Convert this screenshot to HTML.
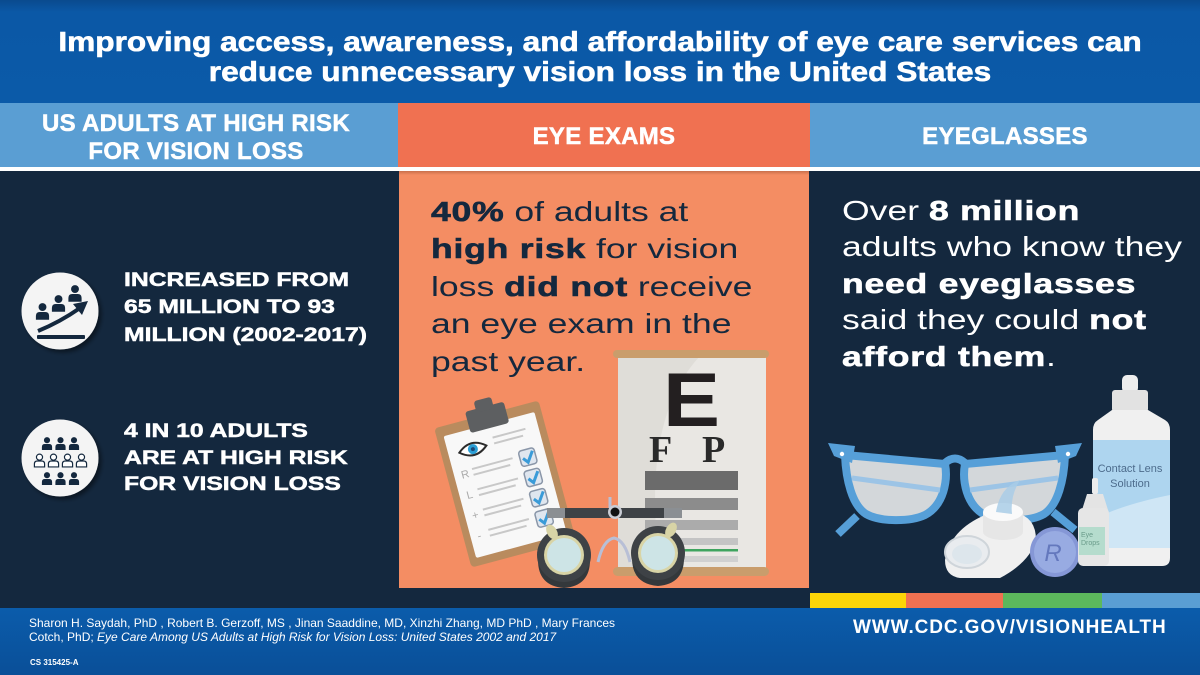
<!DOCTYPE html>
<html><head><meta charset="utf-8">
<style>
*{margin:0;padding:0;box-sizing:border-box}
body{width:1200px;height:675px;position:relative;overflow:hidden;background:#14283e;font-family:"Liberation Sans",Arial,sans-serif}
.abs{position:absolute}
.t{position:absolute;white-space:nowrap;transform-origin:0 0}
.hb{font-weight:700;-webkit-text-stroke:0.6px currentColor;letter-spacing:0.6px}
</style></head><body>
<div class="abs" style="left:0;top:0;width:1200px;height:103px;background:linear-gradient(#0a4a8e 0px,#0b58a6 12px,#0b5aa8 100%)"></div>
<div class="abs" style="left:0;top:103px;width:398px;height:64px;background:#5a9ed3"></div>
<div class="abs" style="left:398px;top:103px;width:412px;height:64px;background:#f07151"></div>
<div class="abs" style="left:810px;top:103px;width:390px;height:64px;background:#5a9ed3"></div>
<div class="abs" style="left:0;top:167px;width:1200px;height:4px;background:#fff"></div>
<div class="abs" style="left:399px;top:171px;width:410px;height:417px;background:linear-gradient(#c9704c 0px,#f48d63 4px)"></div>
<div class="abs" style="left:810px;top:593px;width:96px;height:15px;background:#fcd507"></div>
<div class="abs" style="left:906px;top:593px;width:97px;height:15px;background:#f07151"></div>
<div class="abs" style="left:1003px;top:593px;width:99px;height:15px;background:#5cb85c"></div>
<div class="abs" style="left:1102px;top:593px;width:98px;height:15px;background:#5a9ed3"></div>
<div class="abs" style="left:0;top:608px;width:1200px;height:67px;background:linear-gradient(#0b5cab,#0a4f98)"></div>

<svg class="abs" style="left:0;top:0" width="1200" height="675" viewBox="0 0 1200 675">
<defs>
<g id="pf"><circle cx="0" cy="-4.5" r="3.6"/><path d="M-6,7 V3.5 Q-6,0 -2.5,0 H2.5 Q6,0 6,3.5 V7 Z"/></g>
<filter id="sh" x="-30%" y="-30%" width="160%" height="160%"><feDropShadow dx="3" dy="3" stdDeviation="2" flood-color="#000" flood-opacity="0.45"/></filter>
</defs>
<!-- left icons -->
<circle cx="60" cy="311" r="38.5" fill="#f4f4f4" filter="url(#sh)"/>
<g fill="#14283e">
<use href="#pf" transform="translate(42.5,312) scale(1.1)"/>
<use href="#pf" transform="translate(58.5,304) scale(1.1)"/>
<use href="#pf" transform="translate(75,294) scale(1.1)"/>
<rect x="37" y="335" width="48" height="4" rx="1"/>
<polygon points="88,301 73,304 82,315"/>
</g>
<path d="M38,331 Q60,322 80,308" stroke="#14283e" stroke-width="4" fill="none"/>

<circle cx="60" cy="458" r="38.5" fill="#f4f4f4" filter="url(#sh)"/>
<g fill="#14283e">
<use href="#pf" transform="translate(47,444) scale(0.85)"/>
<use href="#pf" transform="translate(60.5,444) scale(0.85)"/>
<use href="#pf" transform="translate(74,444) scale(0.85)"/>
<use href="#pf" transform="translate(47,479) scale(0.85)"/>
<use href="#pf" transform="translate(60.5,479) scale(0.85)"/>
<use href="#pf" transform="translate(74,479) scale(0.85)"/>
</g>
<g fill="#fff" stroke="#14283e" stroke-width="1.4">
<use href="#pf" transform="translate(39.5,461) scale(0.85)"/>
<use href="#pf" transform="translate(53.5,461) scale(0.85)"/>
<use href="#pf" transform="translate(67.5,461) scale(0.85)"/>
<use href="#pf" transform="translate(81.5,461) scale(0.85)"/>
</g>

<!-- eye chart -->
<rect x="618" y="356" width="148" height="213" fill="#e9e7e3"/>
<path d="M700,356 Q640,420 660,569 L618,569 L618,356 Z" fill="#dfddd8"/>
<rect x="613" y="350" width="156" height="8" rx="4" fill="#c99d6c"/>
<rect x="613" y="567" width="156" height="9" rx="4.5" fill="#c99d6c"/>
<text x="663" y="426" font-family="Liberation Sans" font-weight="700" font-size="76" fill="#231f20" textLength="57" lengthAdjust="spacingAndGlyphs">E</text>
<text x="649" y="462" font-family="Liberation Serif" font-weight="700" font-size="38" fill="#2a2a2a">F</text>
<text x="702" y="462" font-family="Liberation Serif" font-weight="700" font-size="38" fill="#2a2a2a">P</text>
<rect x="645" y="471" width="93" height="19" fill="#6b6b6b"/>
<rect x="645" y="498" width="93" height="12" fill="#8c8c8c"/>
<rect x="645" y="520" width="93" height="10" fill="#ababab"/>
<rect x="645" y="538" width="93" height="7" fill="#c4c4c4"/>
<rect x="645" y="549" width="93" height="2.5" fill="#3fa45f"/>
<rect x="645" y="556" width="93" height="6" fill="#d0d0d0"/>

<!-- clipboard -->
<g transform="translate(505,484) rotate(-15)">
<rect x="-54" y="-72" width="108" height="144" rx="4" fill="#b98b5e"/>
<rect x="-47" y="-62" width="94" height="126" rx="2" fill="#f8f8f8"/>
<rect x="-20" y="-80" width="40" height="22" rx="3" fill="#5d5f61"/>
<rect x="-9" y="-88" width="18" height="12" rx="3" fill="#5d5f61"/>
<path d="M-36,-42 Q-22,-54 -8,-42 Q-22,-30 -36,-42 Z" fill="#fff" stroke="#2b2b2b" stroke-width="2"/>
<circle cx="-22" cy="-42" r="5" fill="#2b9fd6"/><circle cx="-22" cy="-42" r="2" fill="#1c4a78"/>
<g stroke="#c8c8c8" stroke-width="2"><line x1="0" y1="-48" x2="34" y2="-48"/><line x1="0" y1="-42" x2="30" y2="-42"/>
<line x1="-28" y1="-23" x2="14" y2="-23"/><line x1="-28" y1="-17" x2="10" y2="-17"/>
<line x1="-28" y1="-2" x2="14" y2="-2"/><line x1="-28" y1="4" x2="10" y2="4"/>
<line x1="-28" y1="19" x2="14" y2="19"/><line x1="-28" y1="25" x2="10" y2="25"/>
<line x1="-28" y1="40" x2="14" y2="40"/><line x1="-28" y1="46" x2="10" y2="46"/></g>
<g font-family="Liberation Sans" font-size="11" fill="#aaa"><text x="-40" y="-16">R</text><text x="-40" y="5">L</text><text x="-40" y="26">+</text><text x="-40" y="47">-</text></g>
<g fill="#dfe6ef" stroke="#8a96a8" stroke-width="1.5">
<rect x="21" y="-28" width="16" height="16" rx="3"/><rect x="21" y="-7" width="16" height="16" rx="3"/>
<rect x="21" y="14" width="16" height="16" rx="3"/><rect x="21" y="35" width="16" height="16" rx="3"/></g>
<g stroke="#3a9bd8" stroke-width="3" fill="none">
<path d="M24,-20 L28,-15 L35,-25"/><path d="M24,1 L28,6 L35,-4"/><path d="M24,22 L28,27 L35,17"/><path d="M24,43 L28,48 L35,38"/></g>
</g>

<!-- trial frame -->
<path d="M610,497 L610,515" stroke="#b8bfd6" stroke-width="3"/>
<path d="M598,562 Q603,540 614,538 Q625,540 630,562" stroke="#b8bfd6" stroke-width="3" fill="none"/>
<path d="M538,560 Q538,586 564,588 Q590,586 590,560 Z" fill="#34383b"/>
<path d="M632,558 Q632,584 658,586 Q684,584 684,558 Z" fill="#34383b"/>
<circle cx="564" cy="555" r="27" fill="#3e4246"/>
<circle cx="658" cy="553" r="27" fill="#3e4246"/>
<circle cx="564" cy="555" r="20" fill="#d8d4a6"/><circle cx="564" cy="555" r="17" fill="#cde4e6"/>
<circle cx="658" cy="553" r="20" fill="#d8d4a6"/><circle cx="658" cy="553" r="17" fill="#cde4e6"/>
<ellipse cx="552" cy="532" rx="5" ry="8" transform="rotate(-30 552 532)" fill="#d8d4a6"/>
<ellipse cx="671" cy="530" rx="5" ry="8" transform="rotate(30 671 530)" fill="#d8d4a6"/>
<rect x="547" y="508" width="135" height="10" rx="2" fill="#3e4246"/>
<rect x="547" y="508" width="18" height="10" fill="#8b8f93"/><rect x="664" y="508" width="18" height="10" fill="#8b8f93"/>
<circle cx="615" cy="512" r="7" fill="#c9ccd4"/><circle cx="615" cy="512" r="4.5" fill="#111"/>

<!-- glasses -->
<g>
<path d="M845,455 L945,464 C948,480 944,505 925,515 C910,522 880,522 866,514 C852,505 846,480 845,455 Z" fill="#d3d7da" stroke="#569fd8" stroke-width="8" stroke-linejoin="round"/>
<path d="M1065,455 L965,464 C962,480 966,505 985,515 C1000,522 1030,522 1044,514 C1058,505 1064,480 1065,455 Z" fill="#d3d7da" stroke="#569fd8" stroke-width="8" stroke-linejoin="round"/>
<path d="M852,478 L940,490" stroke="#9cc4e6" stroke-width="5"/>
<path d="M1058,478 L970,490" stroke="#9cc4e6" stroke-width="5"/>
<polygon points="828,443 855,446 852,463 834,456" fill="#569fd8"/>
<polygon points="1082,443 1055,446 1058,463 1076,456" fill="#569fd8"/>
<path d="M945,463 Q955,454 965,463" stroke="#569fd8" stroke-width="8" fill="none"/>
<path d="M857,516 L838,534" stroke="#569fd8" stroke-width="8"/>
<path d="M1053,512 L1075,530" stroke="#569fd8" stroke-width="8"/>
<circle cx="842" cy="454" r="2.2" fill="#fff"/><circle cx="1068" cy="454" r="2.2" fill="#fff"/>
</g>

<!-- contact case -->
<path d="M945,560 Q945,576 960,578 L1000,578 Q1030,562 1036,540 Q1036,514 1010,512 L985,515 Q950,530 945,560 Z" fill="#f0f0f0"/>
<rect x="983" y="512" width="40" height="20" fill="#e6e6e6"/>
<ellipse cx="1003" cy="532" rx="20" ry="8" fill="#e6e6e6"/>
<ellipse cx="1003" cy="512" rx="20" ry="9" fill="#fafafa"/>
<ellipse cx="967" cy="552" rx="22" ry="16" fill="#e9ecef" stroke="#cfd5da" stroke-width="2"/>
<ellipse cx="967" cy="554" rx="15" ry="10" fill="#dde6ec"/>
<path d="M996,512 Q1000,487 1020,480 Q1010,496 1012,514 Z" fill="#a9cde6" opacity="0.85"/>
<circle cx="1055" cy="552" r="25" fill="#8597d6"/>
<circle cx="1055" cy="552" r="21" fill="#98abe2"/>
<text x="1053" y="561" font-family="Liberation Sans" font-style="italic" font-size="24" fill="#6478bd" text-anchor="middle">R</text>

<!-- big bottle -->
<rect x="1122" y="375" width="16" height="18" rx="5" fill="#eeeeee"/>
<rect x="1112" y="390" width="36" height="22" rx="3" fill="#e2e2e2"/>
<path d="M1112,410 H1148 L1165,420 Q1170,423 1170,430 V558 Q1170,566 1162,566 H1101 Q1093,566 1093,558 V430 Q1093,423 1098,420 Z" fill="#f0f0f0"/>
<rect x="1093" y="440" width="77" height="108" fill="#aed5ef"/>
<path d="M1093,520 Q1120,505 1170,495 V548 H1093 Z" fill="#cfe6f5"/>
<text x="1130" y="472" font-family="Liberation Sans" font-size="11" fill="#4d6c8c" text-anchor="middle">Contact Lens</text>
<text x="1130" y="487" font-family="Liberation Sans" font-size="11" fill="#4d6c8c" text-anchor="middle">Solution</text>
<!-- eye drops -->
<rect x="1092" y="478" width="6" height="16" rx="2" fill="#ececec"/>
<path d="M1087,494 H1103 L1108,510 H1082 Z" fill="#e4e4e4"/>
<rect x="1078" y="508" width="31" height="58" rx="5" fill="#e6e6e6"/>
<rect x="1079" y="527" width="26" height="28" fill="#b5dccd"/>
<text x="1081" y="537" font-family="Liberation Sans" font-size="7" fill="#6a9b8a">Eye</text>
<text x="1081" y="545" font-family="Liberation Sans" font-size="7" fill="#6a9b8a">Drops</text>
</svg>

<div class="abs" style="left:0;top:27.3px;width:1200px;text-align:center;color:#fff;font-weight:700;font-size:28px;line-height:30px;white-space:nowrap;transform:scaleX(1.13);-webkit-text-stroke:0.6px #fff">Improving access, awareness, and affordability of eye care services can<br>reduce unnecessary vision loss in the United States</div>

<div class="abs" style="left:0;top:109.7px;width:392px;text-align:center;color:#fff;font-weight:700;font-size:24px;line-height:28px;white-space:nowrap;letter-spacing:0.3px;-webkit-text-stroke:0.5px #fff">US ADULTS AT HIGH RISK<br>FOR VISION LOSS</div>
<div class="abs" style="left:398px;top:122.7px;width:412px;text-align:center;color:#fff;font-weight:700;font-size:24px;line-height:28px;white-space:nowrap;letter-spacing:0.3px;-webkit-text-stroke:0.5px #fff">EYE EXAMS</div>
<div class="abs" style="left:810px;top:122.7px;width:390px;text-align:center;color:#fff;font-weight:700;font-size:24px;line-height:28px;white-space:nowrap;letter-spacing:0.3px;-webkit-text-stroke:0.5px #fff">EYEGLASSES</div>

<div class="t" style="left:124px;top:266.7px;font-size:19px;line-height:27.5px;color:#fff;font-weight:700;transform:scaleX(1.3);-webkit-text-stroke:0.5px #fff">INCREASED FROM<br>65 MILLION TO 93<br>MILLION (2002-2017)</div>
<div class="t" style="left:124px;top:419.2px;font-size:19px;line-height:26.5px;color:#fff;font-weight:700;transform:scaleX(1.3);-webkit-text-stroke:0.5px #fff">4 IN 10 ADULTS<br>ARE AT HIGH RISK<br>FOR VISION LOSS</div>

<div class="t" style="left:431px;top:192.5px;font-size:28px;line-height:37.5px;color:#14283e;transform:scaleX(1.27)"><span class="hb">40%</span> of adults at<br><span class="hb">high risk</span> for vision<br>loss <span class="hb">did not</span> receive<br>an eye exam in the<br>past year.</div>

<div class="t" style="left:842px;top:192.7px;font-size:28px;line-height:36.5px;color:#fff;transform:scaleX(1.27)">Over <span class="hb">8 million</span><br>adults who know they<br><span class="hb">need eyeglasses</span><br>said they could <span class="hb">not</span><br><span class="hb">afford them</span>.</div>

<div class="t" style="left:29px;top:615.8px;font-size:12px;line-height:14px;color:#fff">Sharon H. Saydah, PhD , Robert B. Gerzoff, MS , Jinan Saaddine, MD, Xinzhi Zhang, MD PhD , Mary Frances<br>Cotch, PhD; <i>Eye Care Among US Adults at High Risk for Vision Loss: United States 2002 and 2017</i></div>
<div class="t" style="left:30px;top:658px;font-size:8px;line-height:10px;color:#fff;font-weight:700">CS 315425-A</div>
<div class="t" style="left:853px;top:617px;font-size:19px;line-height:22px;color:#fff;font-weight:700;letter-spacing:0.9px">WWW.CDC.GOV/VISIONHEALTH</div>
</body></html>
